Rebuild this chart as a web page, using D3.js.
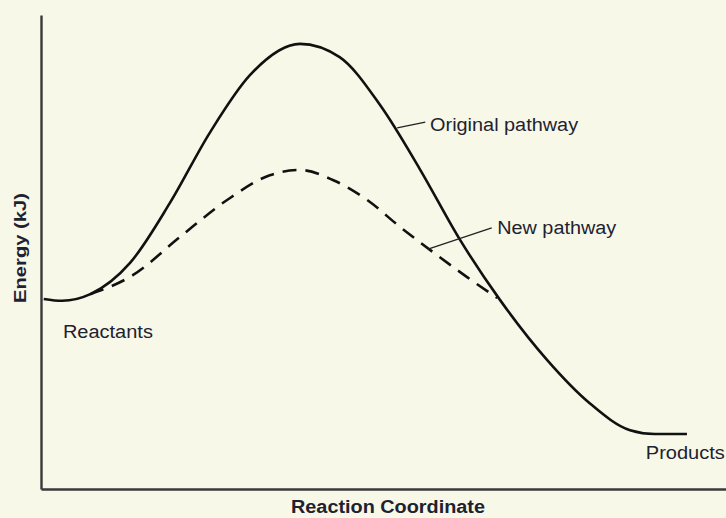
<!DOCTYPE html>
<html>
<head>
<meta charset="utf-8">
<script src="https://cdn.jsdelivr.net/npm/d3@7/dist/d3.min.js"></script>
<style>
  body { margin: 0; background: #f7f8e8; }
  svg { display: block; }
  text { font-family: "Liberation Sans", Arial, sans-serif; fill: #1e2230; }
</style>
</head>
<body>
<div id="chart-area"></div>
<script>
// reaction coordinate (0-100) and energy (0-100, arbitrary)
var originalX = [0.4, 3.1, 7.2, 13.0, 18.8, 24.7, 30.5, 37.8, 43.6, 49.5, 55.3, 61.2, 67.0, 73.9, 80.1, 86.0, 89.6, 94.3];
var originalE = [40.1, 39.7, 41.1, 47.7, 60.3, 75.3, 87.3, 93.9, 91.1, 81.0, 67.5, 52.5, 39.9, 27.2, 18.1, 12.4, 11.6, 11.6];
var newX = [7.2, 13.4, 20.3, 27.6, 33.4, 37.8, 42.6, 47.6, 52.4, 57.2, 62.2, 66.6];
var newE = [41.1, 45.1, 53.2, 61.4, 66.2, 67.3, 65.2, 61.0, 55.3, 50.0, 44.7, 40.3];

var labels = ["Original pathway", "New pathway", "Reactants", "Products"];

var W = 726, H = 518;

var svg = d3.select("#chart-area").append("svg")
	.attr("width", W)
	.attr("height", H);

svg.append("rect").attr("width", W).attr("height", H).attr("fill", "#f7f8e8");

var x = d3.scaleLinear().domain([0, 100]).range([41, 726]);
var y = d3.scaleLinear().domain([0, 100]).range([489, 15]);

var original = originalX.map((d, i) => { return {x: d, e: originalE[i]}; });
var newPath = newX.map((d, i) => { return {x: d, e: newE[i]}; });

var line = d3.line()
	.x((d) => { return x(d.x); })
	.y((d) => { return y(d.e); })
	.curve(d3.curveMonotoneX);

// axes, no ticks
svg.append("g")
	.attr("transform", "translate(41,0)")
	.call(d3.axisLeft(y).ticks(0).tickSizeOuter(0))
	.select(".domain").attr("stroke", "#3a3a3a").attr("stroke-width", 2.4);
svg.append("g")
	.attr("transform", "translate(0,489)")
	.call(d3.axisBottom(x).ticks(0).tickSizeOuter(0))
	.select(".domain").attr("stroke", "#3a3a3a").attr("stroke-width", 2.4);

svg.append("path")
	.datum(newPath)
	.attr("d", line)
	.attr("fill", "none")
	.attr("stroke", "#111")
	.attr("stroke-width", 2.6)
	.attr("stroke-dasharray", "14,9");

svg.append("path")
	.datum(original)
	.attr("d", line)
	.attr("fill", "none")
	.attr("stroke", "#111")
	.attr("stroke-width", 2.6);

// pointer lines
var pointers = [
	[[52.0, 76.2], [56.1, 77.4]],
	[[56.5, 50.6], [65.8, 55.1]]
];
pointers.forEach((p) => {
	svg.append("line")
		.attr("x1", x(p[0][0])).attr("y1", y(p[0][1]))
		.attr("x2", x(p[1][0])).attr("y2", y(p[1][1]))
		.attr("stroke", "#222")
		.attr("stroke-width", 1.3);
});

var labelPos = [[56.8, 75.5, 148], [66.6, 53.8, 119], [3.2, 31.9, 90], [88.3, 6.3, 79]];
labels.forEach((t, i) => {
	svg.append("text")
		.attr("x", x(labelPos[i][0]))
		.attr("y", y(labelPos[i][1]))
		.attr("font-size", "18px")
		.attr("textLength", labelPos[i][2])
		.attr("lengthAdjust", "spacingAndGlyphs")
		.text(t);
});

svg.append("text")
	.attr("x", 388)
	.attr("y", 513)
	.attr("font-size", "18px")
	.attr("font-weight", "bold")
	.attr("text-anchor", "middle")
	.attr("textLength", 194)
	.attr("lengthAdjust", "spacingAndGlyphs")
	.text("Reaction Coordinate");

svg.append("text")
	.attr("x", -248)
	.attr("y", 26)
	.attr("font-size", "17px")
	.attr("font-weight", "bold")
	.attr("text-anchor", "middle")
	.attr("transform", "rotate(-90)")
	.attr("textLength", 110)
	.attr("lengthAdjust", "spacingAndGlyphs")
	.text("Energy (kJ)");
</script>
</body>
</html>
